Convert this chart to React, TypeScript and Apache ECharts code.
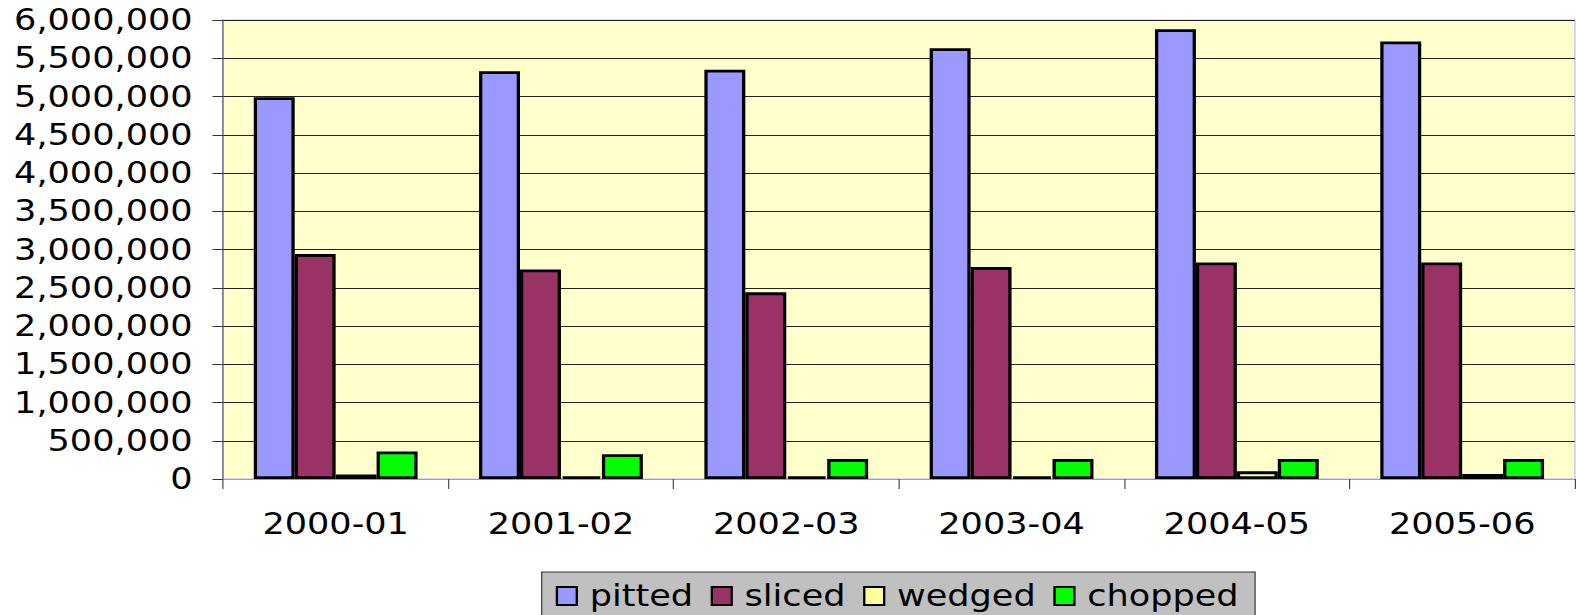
import React, { useEffect, useRef } from "react";
import * as echarts from "echarts";

const categories = ["2000-01", "2001-02", "2002-03", "2003-04", "2004-05", "2005-06"];
const seriesNames = ["pitted", "sliced", "wedged", "chopped"];
const pitted = [4990000, 5330000, 5350000, 5630000, 5880000, 5720000];
const sliced = [2940000, 2740000, 2440000, 2770000, 2830000, 2830000];
const wedged = [60000, 35000, 35000, 35000, 100000, 65000];
const chopped = [360000, 325000, 260000, 260000, 260000, 260000];
const seriesColors = ["#9999FF", "#993366", "#FFFF99", "#00FF00"];

const STRETCH = 1.17;
const FULL_W = 1576;
const FULL_H = 615;
const INNER_W = Math.round(FULL_W / STRETCH);

export default function App() {
  const ref = useRef<HTMLDivElement>(null);

  useEffect(() => {
    document.body.style.margin = "0";
    if (!ref.current) return;
    const chart = echarts.init(ref.current, null, { renderer: "svg" });
    const data = [pitted, sliced, wedged, chopped];
    const font = "DejaVu Sans";
    chart.setOption({
      animation: false,
      textStyle: { fontFamily: font, color: "#000" },
      grid: {
        left: 190.6,
        right: 1,
        top: 20,
        bottom: 136,
        show: true,
        backgroundColor: "#FFFFCC",
        borderColor: "#CCCCFF",
        borderWidth: 1.5,
      },
      legend: {
        data: seriesNames,
        left: 463,
        top: 572,
        orient: "horizontal",
        backgroundColor: "#C0C0C0",
        borderColor: "#333",
        borderWidth: 1,
        borderRadius: 0,
        padding: [9, 14, 30, 12],
        itemWidth: 17,
        itemHeight: 18,
        itemGap: 15,
        icon: "rect",
        itemStyle: { borderColor: "#000", borderWidth: 2 },
        textStyle: {
          fontFamily: font,
          fontSize: 30,
          lineHeight: 30,
          color: "#000",
          padding: [0, 0, 0, 6],
        },
      },
      xAxis: {
        type: "category",
        data: categories,
        axisLine: { show: true, lineStyle: { color: "#9999CC", width: 1 } },
        axisTick: { show: true, length: 10, lineStyle: { color: "#444" } },
        axisLabel: {
          fontFamily: font,
          fontSize: 30,
          color: "#000",
          margin: 30,
        },
        splitLine: { show: false },
      },
      yAxis: {
        type: "value",
        min: 0,
        max: 6000000,
        interval: 500000,
        axisLine: { show: true, lineStyle: { color: "#555577", width: 1 } },
        axisTick: { show: true, length: 9, lineStyle: { color: "#333" } },
        axisLabel: {
          fontFamily: font,
          fontSize: 30,
          color: "#000",
          margin: 26,
          padding: [6, 0, 0, 0],
          formatter: (v: number) => v.toLocaleString("en-US"),
        },
        splitLine: { show: true, lineStyle: { color: "#222", width: 1 } },
      },
      series: seriesNames.map((name, i) => ({
        name,
        type: "bar",
        data: data[i],
        barGap: "0%",
        barCategoryGap: "27.3%",
        itemStyle: {
          color: seriesColors[i],
          borderColor: "#000",
          borderWidth: 2.8,
        },
      })),
    });
    return () => chart.dispose();
  }, []);

  return (
    <div style={{ width: FULL_W, height: FULL_H, overflow: "hidden", position: "relative" }}>
      <div
        ref={ref}
        style={{
          width: INNER_W,
          height: FULL_H,
          transform: `scaleX(${STRETCH})`,
          transformOrigin: "0 0",
        }}
      />
    </div>
  );
}
